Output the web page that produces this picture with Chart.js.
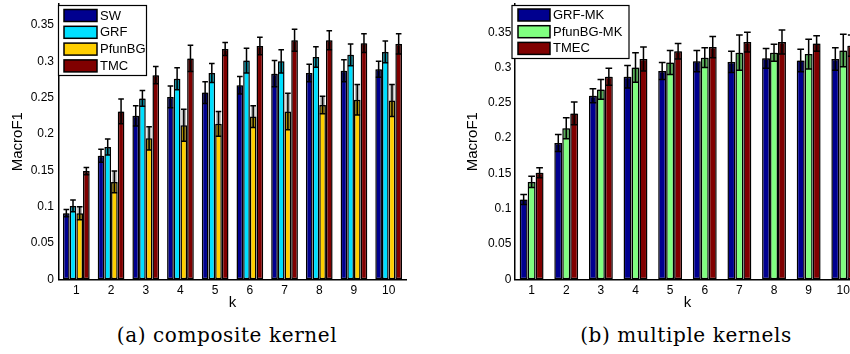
<!DOCTYPE html>
<html><head><meta charset="utf-8">
<script src="https://cdn.jsdelivr.net/npm/chart.js@4/dist/chart.umd.min.js"></script>
<style>
html,body{margin:0;padding:0;background:#fff;width:850px;height:354px;overflow:hidden;position:relative}
#c1{position:absolute;left:0;top:0}
#c2{position:absolute;left:450px;top:0}
.cap{position:absolute;top:324px;font-family:"DejaVu Serif",serif;font-size:20px;letter-spacing:0.6px;color:#000;white-space:nowrap;transform:translateX(-50%);line-height:23px}
</style></head><body>
<canvas id="c1" width="425" height="320"></canvas>
<canvas id="c2" width="430" height="320"></canvas>
<div class="cap" style="left:227px">(a) composite kernel</div>
<div class="cap" style="left:686px">(b) multiple kernels</div>
<script>
// ---- data ----
const categories = ['1','2','3','4','5','6','7','8','9','10'];
const yTicks = [0,0.05,0.1,0.15,0.2,0.25,0.3,0.35];
const yTickLabels = ['0','0.05','0.1','0.15','0.2','0.25','0.3','0.35'];

// (a) composite kernel
const sw       = [0.091,0.170,0.225,0.251,0.257,0.267,0.283,0.284,0.287,0.289];
const swErr    = [0.005,0.009,0.014,0.015,0.015,0.012,0.018,0.012,0.015,0.011];
const grf      = [0.101,0.182,0.249,0.276,0.284,0.301,0.300,0.306,0.309,0.313];
const grfErr   = [0.008,0.011,0.011,0.015,0.013,0.017,0.016,0.014,0.015,0.015];
const pfunbg   = [0.091,0.134,0.194,0.212,0.214,0.224,0.231,0.240,0.247,0.246];
const pfunbgErr= [0.009,0.015,0.016,0.022,0.017,0.015,0.025,0.012,0.021,0.022];
const tmc      = [0.149,0.231,0.281,0.304,0.317,0.321,0.329,0.329,0.325,0.324];
const tmcErr   = [0.005,0.017,0.012,0.018,0.009,0.012,0.015,0.013,0.013,0.014];

// (b) multiple kernels
const grfmk      = [0.113,0.193,0.260,0.287,0.295,0.309,0.308,0.313,0.310,0.312];
const grfmkErr   = [0.007,0.012,0.010,0.016,0.012,0.015,0.015,0.014,0.016,0.016];
const pfunbgmk   = [0.138,0.214,0.269,0.300,0.307,0.314,0.321,0.321,0.319,0.324];
const pfunbgmkErr= [0.008,0.015,0.014,0.021,0.017,0.014,0.025,0.012,0.021,0.023];
const tmec       = [0.151,0.235,0.287,0.312,0.323,0.329,0.336,0.336,0.334,0.331];
const tmecErr    = [0.007,0.016,0.012,0.017,0.011,0.015,0.014,0.017,0.011,0.015];

const FAM = '"Liberation Sans", Arial, Helvetica, sans-serif';

const errPlugin = {
  id:'errbars',
  afterDatasetsDraw(chart){
    const ctx = chart.ctx, ys = chart.scales.y;
    chart.data.datasets.forEach((ds,di)=>{
      const meta = chart.getDatasetMeta(di);
      meta.data.forEach((bar,i)=>{
        const v = ds.data[i], e = ds.errors[i];
        const x = bar.x, w = bar.width;
        const yTop = ys.getPixelForValue(v), yHi = ys.getPixelForValue(v+e), yLo = ys.getPixelForValue(v-e);
        const l = x - w/2 + 1, r = x + w/2 - 1;
        ctx.save();
        ctx.fillStyle = 'rgba(0,0,0,0.33)';
        ctx.fillRect(l, yTop, r-l, yLo-yTop);
        if (ds.shadeAbove) {
          ctx.fillStyle = 'rgba(0,0,0,0.28)';
          ctx.fillRect(l, yHi, r-l, yTop-yHi);
        }
        ctx.strokeStyle = '#000'; ctx.lineWidth = 1.5;
        ctx.beginPath();
        ctx.moveTo(x, yHi); ctx.lineTo(x, yLo);
        const cw = w*0.42;
        ctx.moveTo(x-cw, yHi); ctx.lineTo(x+cw, yHi);
        ctx.moveTo(x-cw, yLo); ctx.lineTo(x+cw, yLo);
        ctx.stroke();
        ctx.restore();
      });
    });
  }
};

const boxLegend = {
  id:'boxLegend',
  afterDraw(chart, args, o){
    const ctx = chart.ctx;
    ctx.save();
    ctx.fillStyle = '#fff'; ctx.fillRect(o.x, o.y, o.w, o.h);
    ctx.strokeStyle = '#000'; ctx.lineWidth = 1.2; ctx.strokeRect(o.x+0.5, o.y+0.5, o.w, o.h);
    ctx.font = '13px ' + FAM;
    ctx.textBaseline = 'middle';
    chart.data.datasets.forEach((ds,i)=>{
      const cy = o.y + o.first + i*o.rowH;
      ctx.fillStyle = ds.backgroundColor;
      ctx.fillRect(o.swX, cy - o.swH/2, o.swW, o.swH);
      ctx.strokeStyle = '#000'; ctx.lineWidth = 1.5;
      ctx.strokeRect(o.swX, cy - o.swH/2, o.swW, o.swH);
      ctx.fillStyle = '#000';
      ctx.fillText(ds.label, o.textX, cy + 0.5);
    });
    ctx.restore();
  }
};

function makeChart(id, datasets, opt){
  return new Chart(document.getElementById(id), {
    type:'bar',
    data:{labels:categories, datasets},
    options:{
      responsive:false, animation:false, devicePixelRatio:1,
      layout:{padding:{top:4,right:opt.padRight,bottom:0,left:0}},
      plugins:{legend:{display:false}, tooltip:{enabled:false}, boxLegend:opt.legend},
      datasets:{bar:{categoryPercentage:opt.catPct, barPercentage:1, borderWidth:1.5, borderColor:'#000', borderSkipped:false}},
      scales:{
        x:{
          grid:{display:false, drawTicks:false},
          border:{display:true, color:'#000', width:1.5},
          ticks:{color:'#000', font:{family:FAM, size:12}, padding:4, maxRotation:0, autoSkip:false},
          title:{display:true, text:'k', color:'#000', font:{family:FAM, size:15}, padding:{top:0, bottom:8}},
          afterFit(s){ s.height = 40.7; s.paddingLeft = 0; s.paddingRight = 0; }
        },
        y:{
          min:0, max:opt.ymax,
          grid:{display:false, drawTicks:false},
          border:{display:true, color:'#000', width:1.5},
          afterBuildTicks(s){ s.ticks = yTicks.map(v=>({value:v})); },
          ticks:{color:'#000', font:{family:FAM, size:12}, padding:opt.yPad, callback:(v,i)=>yTickLabels[i]},
          title:{display:true, text:'MacroF1', color:'#000', font:{family:FAM, size:15}, padding:{top:opt.ytPad, bottom:0}},
          afterFit(s){ s.width = opt.yW; s.paddingTop = 0; s.paddingBottom = 0; }
        }
      }
    },
    plugins:[errPlugin, boxLegend]
  });
}

makeChart('c1', [
  {label:'SW', data:sw, errors:swErr, backgroundColor:'#00008F'},
  {label:'GRF', data:grf, errors:grfErr, backgroundColor:'#00DFFF'},
  {label:'PfunBG', data:pfunbg, errors:pfunbgErr, backgroundColor:'#FFCF00', shadeAbove:true},
  {label:'TMC', data:tmc, errors:tmcErr, backgroundColor:'#800000'}
], {padRight:19, catPct:0.77, ymax:0.3789, yPad:5, ytPad:9, yW:59,
    legend:{x:58, y:5, w:88, h:70, first:10.5, rowH:16.8, swX:64, swW:33, swH:12, textX:100}});

makeChart('c2', [
  {label:'GRF-MK', data:grfmk, errors:grfmkErr, backgroundColor:'#00008F'},
  {label:'PfunBG-MK', data:pfunbgmk, errors:pfunbgmkErr, backgroundColor:'#80FF80'},
  {label:'TMEC', data:tmec, errors:tmecErr, backgroundColor:'#800000'}
], {padRight:19.4, catPct:0.69, ymax:0.390, yPad:3, ytPad:14, yW:64.3,
    legend:{x:61.5, y:5, w:117, h:53, first:10, rowH:16.7, swX:68, swW:32, swH:12, textX:103}});
</script>
</body></html>
